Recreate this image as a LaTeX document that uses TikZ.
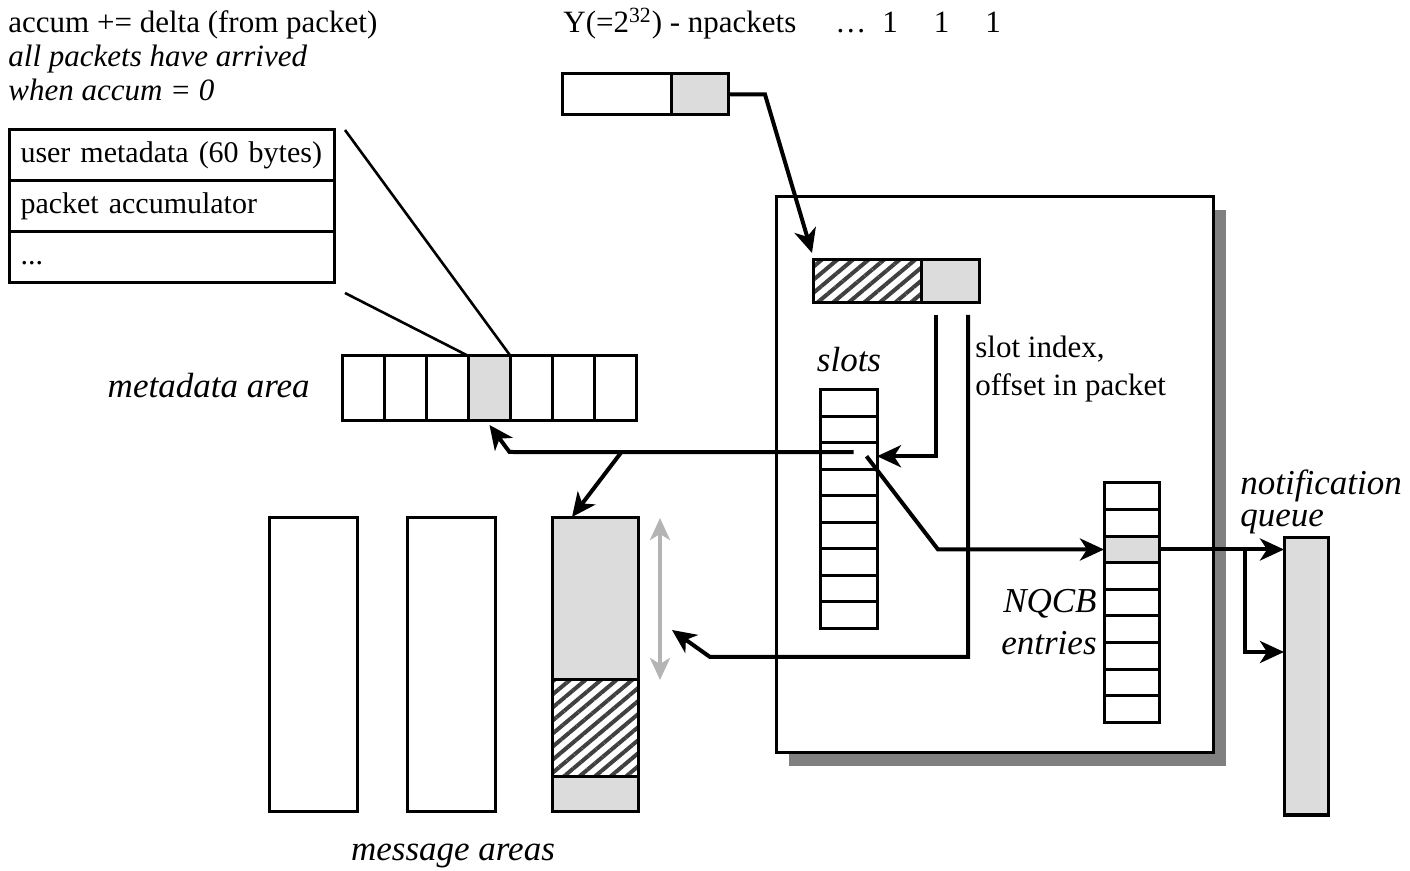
\documentclass[tikz,border=0pt]{standalone}
\usepackage{fontspec}
\setmainfont{Liberation Serif}
\usepackage{tikz}
\usetikzlibrary{arrows.meta,calc,positioning,patterns.meta,shadows}
\definecolor{CellGray}{HTML}{DCDCDC}
\definecolor{ShadowGray}{HTML}{808080}
\definecolor{SpanGray}{HTML}{B4B4B4}
\tikzset{
  >={Stealth[length=12pt,width=11pt,inset=3.5pt]},
  flow/.style={->,line width=2pt},
  thinline/.style={line width=1.3pt},
  spanarrow/.style={{Stealth[length=11pt,width=10pt,inset=3pt]}-{Stealth[length=11pt,width=10pt,inset=3pt]},
    line width=2pt,draw=SpanGray},
  cellbox/.style={draw,line width=1.5pt,fill=white,inner sep=0pt,outer sep=0pt,anchor=north west},
  graycell/.style={cellbox,fill=CellGray},
  hatchcell/.style={cellbox,pattern={Lines[angle=40,distance=5pt,line width=2pt]},pattern color=black!75},
  rowcell/.style={cellbox,minimum width=162.5pt,minimum height=25.5pt,text width=151pt,
    inner xsep=5.75pt,align=left,font=\fontsize{15}{18}\selectfont},
  msgarea/.style={cellbox,minimum width=44pt,minimum height=147pt},
  plain/.style={font=\fontsize{15.5}{18.5}\selectfont,inner sep=0pt},
  itlabel/.style={font=\fontsize{17.5}{21}\selectfont\itshape,inner sep=0pt}
}
\begin{document}
\begin{tikzpicture}[x=0.5pt,y=-0.5pt]
    \useasboundingbox (0,0) rectangle (1410,871);

    % notes on top
    \node[plain,font=\fontsize{15.5}{17}\selectfont,anchor=north west,align=left] (accumnote) at (8,10)
      {accum += delta (from packet)\\ \itshape all packets have arrived\\ \itshape when accum = 0};
    \node[plain,anchor=base west] (ycount) at (563,33) {Y(=2\textsuperscript{32}) - npackets};
    \node[plain,anchor=base west] (ones) at (835,33) {\ldots\hspace{8pt}1\hspace{18pt}1\hspace{18pt}1};

    % metadata table
    \node[rowcell] (tab1) at (9,130) {\strut user metadata (60 bytes)};
    \node[rowcell] (tab2) at (tab1.south west) {\strut packet accumulator};
    \node[rowcell] (tab3) at (tab2.south west) {\strut ...};

    % packet header word
    \node[cellbox,minimum width=54.5pt,minimum height=20.5pt] (topA) at (562,74) {};
    \node[graycell,minimum width=28.5pt,minimum height=20.5pt] (topB) at (topA.north east) {};

    % the adapter box
    \node[cellbox,minimum width=218.5pt,minimum height=278pt,
      drop shadow={shadow xshift=6.5pt,shadow yshift=-6.5pt,fill=ShadowGray,opacity=1}] (nicbox) at (776,197) {};
    \node[hatchcell,minimum width=54pt,minimum height=21.5pt] (hdrA) at (813,260) {};
    \node[graycell,minimum width=29pt,minimum height=21.5pt] (hdrB) at (hdrA.north east) {};

    \node[itlabel,anchor=base] (slotslbl) at (849,372) {slots};
    \foreach \i in {0,...,8}
      \node[cellbox,minimum width=28.5pt,minimum height=13.25pt] (slot\i) at (820,{390+26.5*\i}) {};
    \node[plain,anchor=base west,align=left,font=\fontsize{15.5}{19}\selectfont] (slotidx) at (975,396)
      {slot index,\\offset in packet};

    \foreach \i/\f in {0/white,1/white,2/CellGray,3/white,4/white,5/white,6/white,7/white,8/white}
      \node[cellbox,fill=\f,minimum width=27.5pt,minimum height=13.3pt] (nq\i) at (1104,{483+26.6*\i}) {};
    \node[itlabel,anchor=base east,align=right,font=\fontsize{17.5}{21}\selectfont\itshape] (nqcblbl) at (1097,655)
      {NQCB\\entries};

    % metadata area
    \node[itlabel,anchor=base east] (mdlbl) at (310,398) {metadata area};
    \foreach \i/\f in {0/white,1/white,2/white,3/CellGray,4/white,5/white,6/white}
      \node[cellbox,fill=\f,minimum width=21.07pt,minimum height=32.5pt] (md\i) at ({342+42.14*\i},356) {};

    % message areas
    \node[msgarea] (ma1) at (269,518) {};
    \node[msgarea] (ma2) at (407,518) {};
    \node[graycell,minimum width=43pt,minimum height=81pt] (ma3top) at (552,518) {};
    \node[hatchcell,minimum width=43pt,minimum height=48.5pt] (ma3mid) at (ma3top.south west) {};
    \node[graycell,minimum width=43pt,minimum height=17.5pt] (ma3bot) at (ma3mid.south west) {};
    \node[itlabel,anchor=base] (malbl) at (453,860) {message areas};

    % notification queue
    \node[graycell,minimum width=22pt,minimum height=138.5pt] (nqueue) at (1284,538) {};
    \node[itlabel,anchor=base west,align=left,font=\fontsize{17.5}{16}\selectfont\itshape] (nqlbl) at (1240,527)
      {notification\\queue};

    % connectors
    \draw[thinline] ($(tab1.north east)+(11,0)$) -- (md3.north east);
    \draw[thinline] ($(tab3.south east)+(11,10)$) -- (md3.north west);

    \draw[flow] (topB.east) -- ++(37,0) -- ($(hdrA.north west)+(-1,-7)$);
    \draw[flow] ($(hdrB.south west)+(15,12)$) |- (slot2.east);

    \coordinate (turnB) at (710,657);
    \draw[flow] ($(hdrB.south west)+(47,12)$) |- (turnB) -- ($(ma3top.east)+(34,31)$);

    \coordinate (turnA) at ($(md3.south)+(20,31)$);
    \coordinate (forkA) at ($(turnA)+(112,0)$);
    \draw[flow] ($(slot2.center)+(5,-4)$) -- (turnA) -- ($(md3.south)+(0,4)$);
    \draw[flow] (forkA) -- ($(ma3top.north west)+(20,-1)$);

    \coordinate (turnC) at ($(nq2.west)+(-166,0)$);
    \draw[flow] ($(slot2.center)+(18,0)$) -- (turnC) -- (nq2.west);

    \draw[flow] (nq2.east) -- (nq2.east -| nqueue.west);
    \coordinate (forkQ) at ($(nq2.east)+(86,0)$);
    \draw[flow] (forkQ) |- ($(nqueue.north west)+(0,114)$);

    \draw[spanarrow] ($(ma3top.north east)+(22,0)$) -- ($(ma3top.south east)+(22,0)$);
\end{tikzpicture}
\end{document}
